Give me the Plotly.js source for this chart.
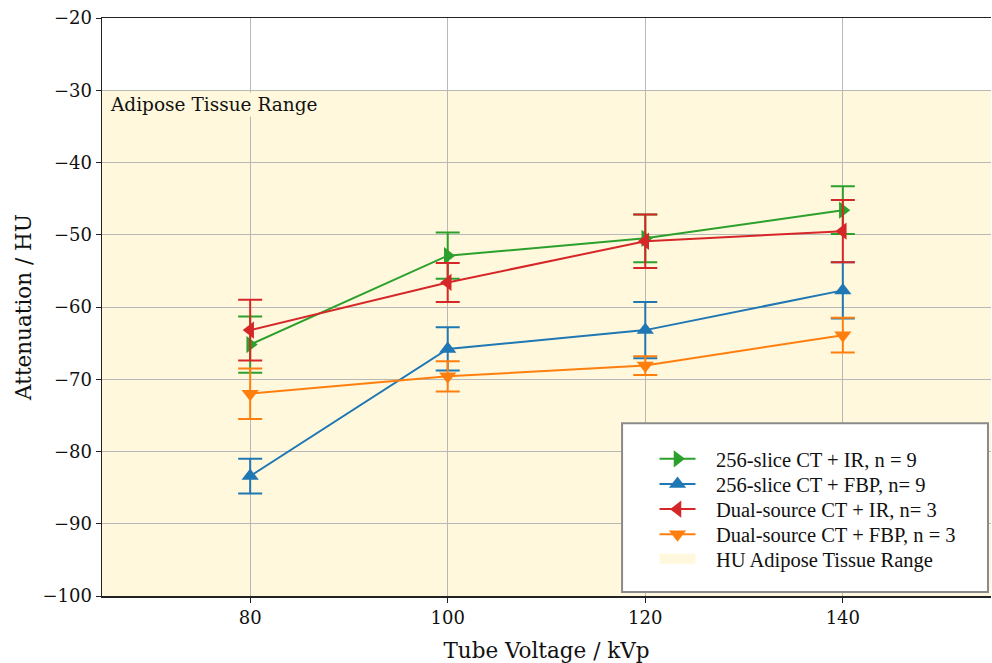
<!DOCTYPE html>
<html>
<head>
<meta charset="utf-8">
<script src="https://cdn.plot.ly/plotly-3.0.1.min.js"></script>
<style>html,body{margin:0;padding:0;background:#fff;}#chart{width:992px;height:663px;}</style>
</head>
<body>
<div id="chart"></div>
<script>
// Data
const kvp = [80, 100, 120, 140];
const ct256IR = [-65.2, -52.9, -50.5, -46.6];
const ct256IRErr = [3.9, 3.2, 3.3, 3.3];
const ct256FBP = [-83.4, -65.8, -63.2, -57.7];
const ct256FBPErr = [2.4, 3.0, 3.9, 3.9];
const dsIR = [-63.2, -56.6, -50.9, -49.5];
const dsIRErr = [4.2, 2.7, 3.7, 4.3];
const dsFBP = [-72.0, -69.6, -68.1, -63.9];
const dsFBPErr = [3.5, 2.1, 1.3, 2.4];
const names = ["256-slice CT + IR, n = 9", "256-slice CT + FBP, n= 9", "Dual-source CT + IR, n= 3", "Dual-source CT + FBP, n = 3"];
const bandName = "HU Adipose Tissue Range";
const adiposeRange = [-100, -30];
const xTicks = [80, 100, 120, 140];
const yTicks = [-100, -90, -80, -70, -60, -50, -40, -30, -20];

const colors = ["#2ca02c", "#1f77b4", "#d62728", "#ff7f0e"];
const symbols = ["triangle-right", "triangle-up", "triangle-left", "triangle-down"];
const series = [ct256IR, ct256FBP, dsIR, dsFBP];
const errs = [ct256IRErr, ct256FBPErr, dsIRErr, dsFBPErr];
const band = "#fff8dc";
const legendIds = ["legend", "legend2", "legend3", "legend4", "legend5"];
const legendRowsY = [0.237, 0.1935, 0.150, 0.1065, 0.064];
const pad = "\u00a0\u00a0\u00a0";

const traces = series.map((s, i) => ({
  type: "scatter", mode: "lines+markers", x: kvp, y: s, name: pad + names[i],
  legend: legendIds[i],
  line: {color: colors[i], width: 2},
  marker: {color: colors[i], symbol: symbols[i], size: 15},
  error_y: {type: "data", array: errs[i], visible: true, color: colors[i], thickness: 2, width: 12}
}));
// legend entry for the shaded range (the range itself is drawn as a layout shape)
traces.push({
  type: "scatter", mode: "lines", x: [null], y: [null], name: pad + bandName,
  legend: legendIds[4], line: {color: band, width: 13}, hoverinfo: "skip"
});

const legendFont = {family: "Liberation Serif", size: 20.5, color: "#111"};
const layout = {
  width: 992, height: 663,
  margin: {l: 102, r: 1, t: 18, b: 67},
  paper_bgcolor: "#ffffff", plot_bgcolor: "#ffffff",
  showlegend: true,
  font: {family: "DejaVu Serif", color: "#111"},
  xaxis: {
    range: [65, 155], tickvals: xTicks, ticks: "outside", ticklen: 5, tickcolor: "#222",
    showline: true, linecolor: "#222", linewidth: 1.5, mirror: true,
    showgrid: true, gridcolor: "#b8b8b8", gridwidth: 1, zeroline: false,
    tickfont: {family: "DejaVu Serif", size: 18, color: "#111"},
    title: {text: "Tube Voltage / kVp", font: {family: "DejaVu Serif", size: 21.5, color: "#111"}, standoff: 20}
  },
  yaxis: {
    range: [-100, -20], tickvals: yTicks, ticks: "outside", ticklen: 5, tickcolor: "#222",
    showline: true, linecolor: "#222", linewidth: 1.5,
    showgrid: true, gridcolor: "#b8b8b8", gridwidth: 1, zeroline: false,
    tickfont: {family: "DejaVu Serif", size: 18, color: "#111"},
    title: {text: "Attenuation / HU", font: {family: "DejaVu Serif", size: 21.5, color: "#111"}, standoff: 5}
  },
  shapes: [
    {type: "rect", xref: "paper", yref: "y", x0: 0, x1: 1, y0: adiposeRange[0], y1: adiposeRange[1],
     fillcolor: band, line: {width: 0}, layer: "below"},
    {type: "rect", xref: "paper", yref: "paper", x0: 0.585, x1: 0.9966, y0: 0.007, y1: 0.299,
     fillcolor: "#ffffff", line: {color: "#8a8a8a", width: 2}, layer: "above"}
  ],
  annotations: [
    {xref: "paper", yref: "y", x: 0.007, y: -30.3, xanchor: "left", yanchor: "top",
     text: "Adipose Tissue Range", showarrow: false, bgcolor: band,
     font: {family: "DejaVu Serif", size: 18.5, color: "#111"}}
  ]
};
legendIds.forEach((id, i) => {
  layout[id] = {
    x: 0.6215, y: legendRowsY[i], xanchor: "left", yanchor: "middle",
    bgcolor: "rgba(0,0,0,0)", borderwidth: 0,
    font: legendFont, itemwidth: 36
  };
});

Plotly.newPlot("chart", traces, layout, {displayModeBar: false, staticPlot: true});
</script>
</body>
</html>
